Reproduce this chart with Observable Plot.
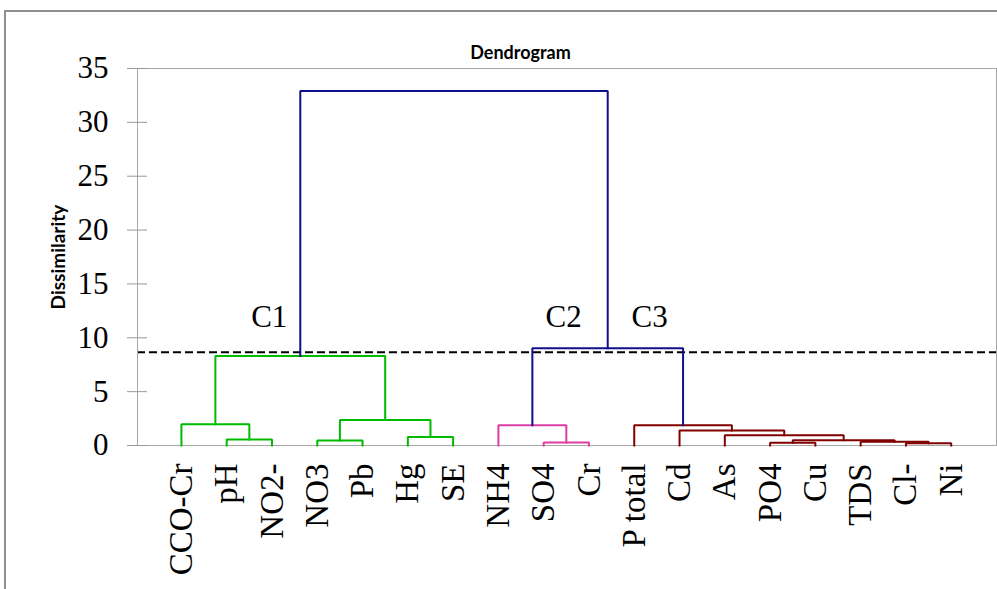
<!DOCTYPE html>
<html>
<head>
<meta charset="utf-8">
<script src="https://cdn.jsdelivr.net/npm/d3@7"></script>
<script src="https://cdn.jsdelivr.net/npm/@observablehq/plot@0.6"></script>
<style>
  html, body { margin: 0; padding: 0; background: #fff; overflow: hidden; }
  #outer { position: absolute; left: 4px; top: 10px; width: 1010px; height: 600px; border: 2px solid #8f8f8f; box-sizing: border-box; }
  #chart { position: absolute; left: 0; top: 0; }
</style>
</head>
<body>
<div id="outer"></div>
<div id="chart"></div>
<script>
// Leaves (in dendrogram order)
const leaves = ["CCO-Cr","pH","NO2-","NO3","Pb","Hg","SE","NH4","SO4","Cr","P total","Cd","As","PO4","Cu","TDS","Cl-","Ni"];
// Linkage: [left node id, right node id, dissimilarity, group]; ids >= leaves.length refer to earlier merges
const linkage = [
  [1, 2, 0.56, "C1"],    // 18 pH + NO2-
  [0, 18, 1.98, "C1"],   // 19
  [3, 4, 0.47, "C1"],    // 20 NO3 + Pb
  [5, 6, 0.80, "C1"],    // 21 Hg + SE
  [20, 21, 2.36, "C1"],  // 22
  [19, 22, 8.31, "C1"],  // 23
  [8, 9, 0.28, "C2"],    // 24 SO4 + Cr
  [7, 24, 1.89, "C2"],   // 25
  [13, 14, 0.25, "C3"],  // 26 PO4 + Cu
  [16, 17, 0.20, "C3"],  // 27 Cl- + Ni
  [15, 27, 0.35, "C3"],  // 28
  [26, 28, 0.49, "C3"],  // 29
  [12, 29, 0.96, "C3"],  // 30
  [11, 30, 1.40, "C3"],  // 31
  [10, 31, 1.89, "C3"],  // 32
  [25, 32, 9.03, "top"], // 33
  [23, 33, 32.9, "top"]  // 34
];
const yTicks = [0, 5, 10, 15, 20, 25, 30, 35];
const cutHeight = 8.66;
const clusterNames = ["C1", "C2", "C3"];
const groupColor = {C1: "#00bb00", C2: "#dc3ca6", C3: "#800000", top: "#101088"};
</script>
<script>
const n = leaves.length;
const nx = leaves.map((d, i) => i);
const nh = leaves.map(() => 0);
const pts = [];
linkage.forEach(([a, b, h, g], k) => {
  nx[n + k] = (nx[a] + nx[b]) / 2;
  nh[n + k] = h;
  const c = groupColor[g];
  pts.push({id: k, x: nx[a], y: nh[a], c});
  pts.push({id: k, x: nx[a], y: h, c});
  pts.push({id: k, x: nx[b], y: h, c});
  pts.push({id: k, x: nx[b], y: nh[b], c});
});
const c1Node = n + 5, c23Node = n + 15;

const serif = "'Liberation Serif', 'Times New Roman', serif";
const sans = "Lato, 'Open Sans', sans-serif";
const labelOpts = {y: () => cutHeight, text: d => d, dy: -35, fontSize: 31, fontFamily: serif, fill: "black"};
const plot = Plot.plot({
  width: 997,
  height: 589,
  marginLeft: 137,
  marginRight: 1,
  marginTop: 68,
  marginBottom: 144,
  style: {fontFamily: serif, background: "transparent", overflow: "visible"},
  x: {domain: [-0.97, 18], axis: null},
  y: {domain: [0, 35], label: null, axis: null},
  color: {type: "identity"},
  marks: [
    Plot.ruleY([cutHeight], {stroke: "black", strokeWidth: 2, strokeDasharray: "8,4"}),
    Plot.frame({stroke: "#a6a6a6", strokeWidth: 1}),
    Plot.axisY({ticks: yTicks, tickSize: 20, dx: 10, tickFormat: () => "", stroke: "#999", label: null}),
    Plot.axisY({ticks: yTicks, tickSize: 0, tickPadding: 29, fontSize: 31, fontFamily: serif, fill: "black", label: null}),
    Plot.line(pts, {x: "x", y: "y", z: "id", stroke: "c", strokeWidth: 2, strokeLinejoin: "miter", strokeLinecap: "square"}),
    Plot.text(leaves, {x: (d, i) => i, y: () => 0, text: d => d, rotate: -90, textAnchor: "end", dy: 18, fontSize: 33, fontFamily: serif, fill: "black"}),
    Plot.text([clusterNames[0]], {...labelOpts, x: () => nx[c1Node], dx: -31}),
    Plot.text([clusterNames[1]], {...labelOpts, x: () => nx[c23Node], dx: -44}),
    Plot.text([clusterNames[2]], {...labelOpts, x: () => nx[c23Node], dx: 42}),
    Plot.text(["Dendrogram"], {frameAnchor: "top-left", dx: 383, dy: -22, text: d => d, textAnchor: "middle", fontSize: 18, fontWeight: "bold", fontFamily: sans, fill: "black"}),
    Plot.text(["Dissimilarity"], {frameAnchor: "left", dx: -79, text: d => d, rotate: -90, textAnchor: "middle", fontSize: 19, fontWeight: "bold", fontFamily: sans, fill: "black"})
  ]
});
document.getElementById("chart").appendChild(plot);
</script>
</body>
</html>
